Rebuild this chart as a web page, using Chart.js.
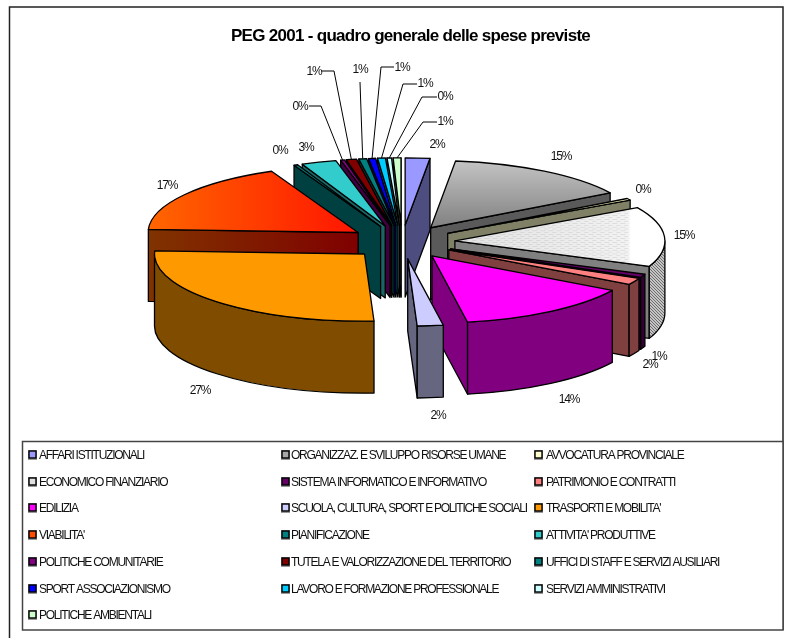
<!DOCTYPE html>
<html>
<head>
<meta charset="utf-8">
<title>PEG 2001</title>
<style>
html,body{margin:0;padding:0;background:#fff}
#wrap{position:relative;width:791px;height:638px}
</style>
<script src="https://cdn.jsdelivr.net/npm/chart.js@4"></script>
</head>
<body>
<div id="wrap"><canvas id="c"></canvas></div>
<script>
const titleText = "PEG 2001 - quadro generale delle spese previste";
const categories = ["AFFARI ISTITUZIONALI","ORGANIZZAZ. E SVILUPPO RISORSE UMANE","AVVOCATURA PROVINCIALE","ECONOMICO FINANZIARIO","SISTEMA INFORMATICO E INFORMATIVO","PATRIMONIO E CONTRATTI","EDILIZIA","SCUOLA, CULTURA, SPORT E POLITICHE SOCIALI","TRASPORTI E MOBILITA'","VIABILITA'","PIANIFICAZIONE","ATTIVITA' PRODUTTIVE","POLITICHE COMUNITARIE","TUTELA E VALORIZZAZIONE DEL TERRITORIO","UFFICI DI STAFF E SERVIZI AUSILIARI","SPORT ASSOCIAZIONISMO","LAVORO E FORMAZIONE PROFESSIONALE","SERVIZI AMMINISTRATIVI","POLITICHE AMBIENTALI"];
const values = [1.9,14.5,0.45,14.5,0.8,1.6,13.8,2.0,26.6,17.6,0.3,2.7,0.3,0.8,0.6,0.55,0.6,0.35,0.6];
const percentLabels = ["2%","15%","0%","15%","1%","2%","14%","2%","27%","17%","0%","3%","0%","1%","1%","1%","1%","0%","1%"];
const sliceColors = ["#9999FF","#A8A8A8","#FFFFCC","#E0E0E0","#660066","#FF8080","#FF00FF","#CCCCFF","#FF9900","#FF4D00","#008080","#33CCCC","#800080","#800000","#008080","#0000FF","#00CCFF","#CCFFFF","#CCFFCC"];
const wallColors = ["#4D4D80","#5A5A5A","#808066","#808080","#330033","#804040","#800080","#666680","#804D00","#802600","#004040","#1A6666","#400040","#400000","#004040","#000080","#006680","#668080","#668066"];
const labelCenters = [[437,145],[561,157],[643,190],[684,236],[659,357],[650,365],[569,400],[438,416],[200,391],[167,186],[280,151],[306,148],[300,107],[314,72],[360,70],[402,68],[425,84],[445,97],[445,122]];
const leaders = [[12,[309,106],[321,106]],[13,[321,71],[334,71]],[14,[360,82],[360,82]],[15,[394,67],[381,67]],[16,[417,84],[403,84]],[17,[437,97],[422,97]],[18,[437,122],[423,122]]];
const pie = {cx:402, cy:242, r:210, ky:0.32, explode:53, depth:72};
const legendBox = {l:22.5, t:441.5, r:783, b:630};
const legendRows = [456,483,509,536,563,590,616];
const legendCols = [{m:29,t:39},{m:282,t:291},{m:535,t:546}];
const FONT = '"Liberation Sans", Arial, sans-serif';

function setSpacing(ctx,v){ if('letterSpacing' in ctx) ctx.letterSpacing = v; }

function geom(arc){
  const mid=(arc.startAngle+arc.endAngle)/2;
  return {mid, X:pie.cx+pie.explode*Math.cos(mid), Y:pie.cy+pie.ky*pie.explode*Math.sin(mid), s:arc.startAngle, e:arc.endAngle, r:arc.outerRadius};
}
function topFill(ctx,i,arc){
  const r=arc.outerRadius;
  if(i===1){const g=ctx.createLinearGradient(0,arc.y-r,0,arc.y);g.addColorStop(0,"#C4C4C4");g.addColorStop(1,"#808080");return g;}
  if(i===3){const g=ctx.createLinearGradient(arc.x,0,arc.x+r,0);g.addColorStop(0,"#E2E2E2");g.addColorStop(0.82,"#F2F2F2");g.addColorStop(0.84,"#FFFFFF");g.addColorStop(1,"#FFFFFF");return g;}
  if(i===9){const g=ctx.createLinearGradient(arc.x-r,0,arc.x,0);g.addColorStop(0,"#FF6600");g.addColorStop(1,"#FF1500");return g;}
  return sliceColors[i];
}
function ditherPattern(ctx){
  const c=document.createElement('canvas');c.width=3;c.height=3;const x=c.getContext('2d');
  x.fillStyle="#C4C4C4";x.fillRect(0,0,3,3);x.fillStyle="#6E6E6E";
  x.fillRect(0,0,1,1);x.fillRect(1,1,1,1);x.fillRect(2,2,1,1);
  return ctx.createPattern(c,'repeat');
}
function dashPattern(ctx){
  const c=document.createElement('canvas');c.width=8;c.height=12;const x=c.getContext('2d');
  x.fillStyle="rgba(150,150,150,0.22)";x.fillRect(0,0,5,3);x.fillRect(4,6,4,3);
  return ctx.createPattern(c,'repeat');
}
function wallFill(ctx,i,g,part){
  if(i===9){const lg=ctx.createLinearGradient(g.X-g.r,0,g.X,0);lg.addColorStop(0,"#803300");lg.addColorStop(1,"#800000");return lg;}
  if(i===3&&part==="curve")return ditherPattern(ctx);
  return wallColors[i];
}

const pie3d = {
  id:'pie3d',
  beforeDraw(chart){
    const ctx=chart.ctx;
    setSpacing(ctx,'-0.7px');
    ctx.save();ctx.fillStyle="#fff";ctx.fillRect(0,0,chart.width,chart.height);
    ctx.strokeStyle="#222";ctx.lineWidth=1.5;
    ctx.beginPath();ctx.moveTo(9.5,640);ctx.lineTo(9.5,7);ctx.lineTo(783,7);ctx.lineTo(783,630);ctx.stroke();
    ctx.restore();
  },
  beforeDatasetsDraw(chart){
    const ctx=chart.ctx, meta=chart.getDatasetMeta(0);
    const order=meta.data.map((a,i)=>({a,i,g:geom(a)})).sort((p,q)=>Math.sin(p.g.mid)-Math.sin(q.g.mid));
    ctx.save();
    ctx.lineJoin="round";
    for(const {a:arc,i,g} of order){
      const {X,Y,s,e,r}=g, d=pie.depth;
      ctx.lineWidth=1.3;ctx.strokeStyle="#000";
      const radial=(ang)=>{
        ctx.beginPath();ctx.moveTo(X,Y);
        const px=X+r*Math.cos(ang),py=Y+pie.ky*r*Math.sin(ang);
        ctx.lineTo(px,py);ctx.lineTo(px,py+d);ctx.lineTo(X,Y+d);ctx.closePath();
        ctx.fillStyle=wallFill(ctx,i,g,"radial");ctx.fill();ctx.stroke();
      };
      if(-Math.cos(s)>0)radial(s);
      if(Math.cos(e)>0)radial(e);
      const a0=Math.max(s,0),a1=Math.min(e,Math.PI);
      if(a1>a0){
        ctx.beginPath();
        ctx.ellipse(X,Y,r,r*pie.ky,0,a0,a1,false);
        ctx.ellipse(X,Y+d,r,r*pie.ky,0,a1,a0,true);
        ctx.closePath();
        ctx.fillStyle=wallFill(ctx,i,g,"curve");ctx.fill();ctx.stroke();
      }
      ctx.save();
      ctx.translate(X,Y);ctx.scale(1,pie.ky);ctx.translate(-arc.x,-arc.y);
      const saved=arc.options;
      arc.options=Object.assign({},saved,{backgroundColor:topFill(ctx,i,arc),borderWidth:0,offset:0});
      arc.draw(ctx);
      if(i===3){
        ctx.beginPath();ctx.rect(arc.x,arc.y-r,0.83*r,2*r);ctx.clip();
        arc.options=Object.assign({},saved,{backgroundColor:dashPattern(ctx),borderWidth:0,offset:0});
        arc.draw(ctx);
      }
      arc.options=saved;
      ctx.restore();
      ctx.beginPath();ctx.moveTo(X,Y);ctx.ellipse(X,Y,r,r*pie.ky,0,s,e,false);ctx.closePath();ctx.stroke();
    }
    ctx.restore();
    return false;
  },
  afterDraw(chart){
    const ctx=chart.ctx, meta=chart.getDatasetMeta(0);
    ctx.save();
    // leader lines
    ctx.strokeStyle="#000";ctx.lineWidth=1;
    for(const [i,from,elbow] of leaders){
      const g=geom(meta.data[i]);
      ctx.beginPath();ctx.moveTo(from[0],from[1]);ctx.lineTo(elbow[0],elbow[1]);
      ctx.lineTo(g.X+g.r*Math.cos(g.mid),g.Y+pie.ky*g.r*Math.sin(g.mid));ctx.stroke();
    }
    // data labels
    ctx.fillStyle="#111";ctx.font='12px '+FONT;ctx.textAlign="center";ctx.textBaseline="middle";
    setSpacing(ctx,'-1.25px');
    percentLabels.forEach((t,i)=>ctx.fillText(t,labelCenters[i][0],labelCenters[i][1]));
    // legend
    ctx.fillStyle="#fff";
    ctx.strokeStyle="#444";ctx.lineWidth=1.5;
    ctx.fillRect(legendBox.l,legendBox.t,legendBox.r-legendBox.l,legendBox.b-legendBox.t);
    ctx.strokeRect(legendBox.l,legendBox.t,legendBox.r-legendBox.l,legendBox.b-legendBox.t);
    ctx.textAlign="left";ctx.font='12px '+FONT;
    categories.forEach((t,i)=>{
      const col=legendCols[i%3], y=legendRows[Math.floor(i/3)];
      ctx.fillStyle="#999";ctx.fillRect(col.m-1,y-6,9,10);
      ctx.fillStyle=sliceColors[i];ctx.fillRect(col.m,y-5,7,7);
      ctx.strokeStyle="#000";ctx.lineWidth=1.4;ctx.strokeRect(col.m,y-5,7,7);
      ctx.fillStyle="#111";ctx.fillText(t,col.t,y);
    });
    ctx.restore();
  }
};

new Chart(document.getElementById('c'),{
  type:'pie',
  data:{labels:categories,datasets:[{data:values,backgroundColor:sliceColors,borderWidth:0}]},
  plugins:[pie3d],
  options:{
    responsive:true,maintainAspectRatio:false,animation:false,events:[],
    radius:pie.r,
    layout:{padding:{left:30}},
    plugins:{
      legend:{display:false},tooltip:{enabled:false},
      title:{display:true,text:titleText,color:"#000",font:{family:FONT,size:17,weight:'bold'},padding:{top:26,bottom:5}}
    }
  }
});
</script>
</body>
</html>
